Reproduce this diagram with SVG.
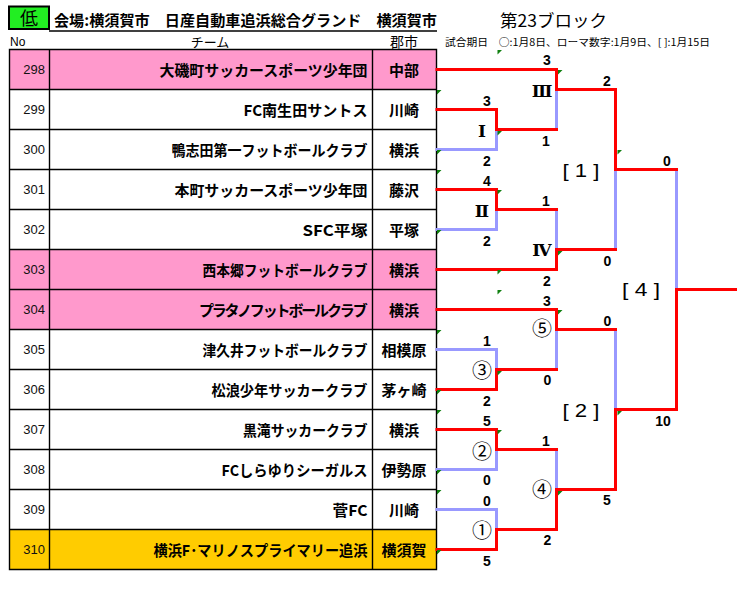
<svg xmlns="http://www.w3.org/2000/svg" width="746" height="589" viewBox="0 0 746 589">
<style>
.jp{font-family:"Noto Sans CJK JP","Noto Sans",sans-serif}
.b{font-weight:700}
.no{font-family:"Liberation Sans",sans-serif;font-size:13px;text-anchor:end;fill:#111}
.team{font-family:"Noto Sans CJK JP",sans-serif;font-weight:700;font-size:15px;text-anchor:end}
.city{font-family:"Noto Sans CJK JP",sans-serif;font-weight:700;font-size:15px;text-anchor:middle}
.grid{fill:none;stroke:#000;stroke-width:1.4}
.red{fill:none;stroke:#ff0000;stroke-width:3;stroke-linecap:square;stroke-linejoin:miter}
.blue{fill:none;stroke:#9999ff;stroke-width:3;stroke-linecap:square;stroke-linejoin:miter}
.sc{font-family:"Liberation Sans",sans-serif;font-weight:700;font-size:14px;text-anchor:middle;fill:#000}
.rm{font-family:"DejaVu Serif","Noto Sans CJK JP",serif;font-weight:700;font-size:17px;text-anchor:middle;fill:#000}
.ci{font-family:"Noto Sans CJK JP",sans-serif;font-size:20px;text-anchor:middle;fill:#000}
.br{font-family:"Liberation Sans",sans-serif;font-size:18px;text-anchor:middle;fill:#000}
.mk{fill:#108010}
</style>
<rect width="746" height="589" fill="#fff"/>
<g id="header">
<rect x="9" y="6.5" width="40" height="22.5" fill="#22ee22" stroke="#000" stroke-width="2"/>
<text x="29" y="24.5" class="jp" font-size="18" text-anchor="middle">低</text>
<text x="54" y="26" class="jp b" font-size="15" textLength="383" lengthAdjust="spacingAndGlyphs">会場:横須賀市　日産自動車追浜総合グランド　横須賀市</text>
<line x1="49" y1="31" x2="437" y2="31" stroke="#000" stroke-width="1.3"/>
<text x="500" y="26.5" class="jp" font-size="17" textLength="107" lengthAdjust="spacingAndGlyphs">第23ブロック</text>
<text x="10" y="46" font-family="Liberation Sans, sans-serif" font-size="12">No</text>
<text x="210" y="46.5" class="jp" font-size="13" text-anchor="middle">チーム</text>
<text x="404" y="46.5" class="jp" font-size="14" text-anchor="middle">郡市</text>
<text x="445" y="46" class="jp" font-size="10" textLength="265" lengthAdjust="spacingAndGlyphs">試合期日　○:1月8日、ローマ数字:1月9日、[ ]:1月15日</text>
</g>
<g id="table">
<rect x="9.5" y="49.5" width="427" height="40" fill="#ff99cc"/>
<rect x="9.5" y="249.5" width="427" height="80" fill="#ff99cc"/>
<rect x="9.5" y="529.5" width="427" height="40" fill="#ffcc00"/>
<path class="grid" d="M9.5,49.5H436.5V569.5H9.5Z M49.5,49.5V569.5 M372.5,49.5V569.5 M9.5,89.5H436.5 M9.5,129.5H436.5 M9.5,169.5H436.5 M9.5,209.5H436.5 M9.5,249.5H436.5 M9.5,289.5H436.5 M9.5,329.5H436.5 M9.5,369.5H436.5 M9.5,409.5H436.5 M9.5,449.5H436.5 M9.5,489.5H436.5 M9.5,529.5H436.5"/>
</g>
<g id="team-298"><text class="no" x="45" y="74">298</text><text class="team" x="367.5" y="75.5" textLength="208" lengthAdjust="spacingAndGlyphs">大磯町サッカースポーツ少年団</text><text class="city" x="404" y="75.5">中部</text></g>
<g id="team-299"><text class="no" x="45" y="114">299</text><text class="team" x="367.5" y="115.5" textLength="124" lengthAdjust="spacingAndGlyphs">FC南生田サントス</text><text class="city" x="404" y="115.5">川崎</text></g>
<g id="team-300"><text class="no" x="45" y="154">300</text><text class="team" x="367.5" y="155.5" textLength="196" lengthAdjust="spacingAndGlyphs">鴨志田第一フットボールクラブ</text><text class="city" x="404" y="155.5">横浜</text></g>
<g id="team-301"><text class="no" x="45" y="194">301</text><text class="team" x="367.5" y="195.5" textLength="193" lengthAdjust="spacingAndGlyphs">本町サッカースポーツ少年団</text><text class="city" x="404" y="195.5">藤沢</text></g>
<g id="team-302"><text class="no" x="45" y="234">302</text><text class="team" x="367.5" y="235.5" textLength="65" lengthAdjust="spacingAndGlyphs">SFC平塚</text><text class="city" x="404" y="235.5">平塚</text></g>
<g id="team-303"><text class="no" x="45" y="274">303</text><text class="team" x="367.5" y="275.5" textLength="165" lengthAdjust="spacingAndGlyphs">西本郷フットボールクラブ</text><text class="city" x="404" y="275.5">横浜</text></g>
<g id="team-304"><text class="no" x="45" y="314">304</text><text class="team" x="365.5" y="315.5" letter-spacing="-2.15">プラタノフットボールクラブ</text><text class="city" x="404" y="315.5">横浜</text></g>
<g id="team-305"><text class="no" x="45" y="354">305</text><text class="team" x="367.5" y="355.5" textLength="165" lengthAdjust="spacingAndGlyphs">津久井フットボールクラブ</text><text class="city" x="404" y="355.5">相模原</text></g>
<g id="team-306"><text class="no" x="45" y="394">306</text><text class="team" x="367.5" y="395.5" textLength="156" lengthAdjust="spacingAndGlyphs">松浪少年サッカークラブ</text><text class="city" x="404" y="395.5">茅ヶ崎</text></g>
<g id="team-307"><text class="no" x="45" y="434">307</text><text class="team" x="367.5" y="435.5" textLength="124.5" lengthAdjust="spacingAndGlyphs">黒滝サッカークラブ</text><text class="city" x="404" y="435.5">横浜</text></g>
<g id="team-308"><text class="no" x="45" y="474">308</text><text class="team" x="367.5" y="475.5" textLength="146" lengthAdjust="spacingAndGlyphs">FCしらゆりシーガルス</text><text class="city" x="404" y="475.5">伊勢原</text></g>
<g id="team-309"><text class="no" x="45" y="514">309</text><text class="team" x="367.5" y="515.5" textLength="35" lengthAdjust="spacingAndGlyphs">菅FC</text><text class="city" x="404" y="515.5">川崎</text></g>
<g id="team-310"><text class="no" x="45" y="554">310</text><text class="team" x="367.5" y="555.5" textLength="214" lengthAdjust="spacingAndGlyphs">横浜F･マリノスプライマリー追浜</text><text class="city" x="404" y="555.5">横須賀</text></g>
<g id="connectors">
<path class="blue" d="M437,149.5H496.5V129.5"/>
<path class="blue" d="M556.5,89.5V129.5"/>
<path class="blue" d="M437,229.5H496.5V209.5"/>
<path class="blue" d="M556.5,209.5V249.5"/>
<path class="blue" d="M615.5,169.5V249.5"/>
<path class="blue" d="M437,349.5H496.5V369.5"/>
<path class="blue" d="M556.5,329.5V369.5"/>
<path class="blue" d="M437,469.5H496.5V449.5"/>
<path class="blue" d="M437,509.5H496.5V529.5"/>
<path class="blue" d="M556.5,449.5V489.5"/>
<path class="blue" d="M615.5,329.5V409.5"/>
<path class="blue" d="M676.5,169.5V289.5"/>
<path class="red" d="M437,69.5H556.5V89.5H615.5V169.5H676.5"/>
<path class="red" d="M437,109.5H496.5V129.5H556.5"/>
<path class="red" d="M437,189.5H496.5V209.5H556.5"/>
<path class="red" d="M437,269.5H556.5V249.5H615.5"/>
<path class="red" d="M437,309.5H556.5V329.5H615.5"/>
<path class="red" d="M437,389.5H496.5V369.5H556.5"/>
<path class="red" d="M437,429.5H496.5V449.5H556.5"/>
<path class="red" d="M437,549.5H496.5V529.5H556.5V489.5H615.5V409.5H676.5V289.5H735.5"/>
</g>
<g id="markers">
<path class="mk" d="M437,90h4.5l-4.5,4.5z M437,150h4.5l-4.5,4.5z M437,170h4.5l-4.5,4.5z M437,230h4.5l-4.5,4.5z M437,330h4.5l-4.5,4.5z M437,390h4.5l-4.5,4.5z M437,410h4.5l-4.5,4.5z M437,470h4.5l-4.5,4.5z M437,490h4.5l-4.5,4.5z M437,550h4.5l-4.5,4.5z M497.5,50h4.5l-4.5,4.5z M497.5,131h4.5l-4.5,4.5z M497.5,190h4.5l-4.5,4.5z M497.5,270h4.5l-4.5,4.5z M497.5,290h4.5l-4.5,4.5z M497.5,371h4.5l-4.5,4.5z M497.5,430h4.5l-4.5,4.5z M558,70h4.5l-4.5,4.5z M558,251h4.5l-4.5,4.5z M558,310h4.5l-4.5,4.5z M558,491h4.5l-4.5,4.5z M617.5,150h4.5l-4.5,4.5z M617.5,411h4.5l-4.5,4.5z"/>
</g>
<g id="match-1">
<text class="sc" x="487" y="106">3</text><text class="rm" x="482" y="137">Ⅰ</text><text class="sc" x="487" y="166">2</text>
</g>
<g id="match-3">
<text class="sc" x="547" y="65">3</text><text class="rm" x="542" y="97">Ⅲ</text><text class="sc" x="546" y="146">1</text>
</g>
<g id="match-2">
<text class="sc" x="487" y="186">4</text><text class="rm" x="482" y="217">Ⅱ</text><text class="sc" x="487" y="246">2</text>
</g>
<g id="match-4">
<text class="sc" x="546" y="206">1</text><text class="rm" x="542" y="256">Ⅳ</text><text class="sc" x="547" y="286">2</text>
</g>
<g id="semi-1">
<text class="sc" x="607" y="86">2</text><text class="br" x="581" y="177" textLength="37" lengthAdjust="spacingAndGlyphs">[ 1 ]</text><text class="sc" x="607.5" y="266">0</text>
</g>
<g id="final">
<text class="sc" x="667" y="166">0</text><text class="br" x="641" y="296" textLength="38" lengthAdjust="spacingAndGlyphs">[ 4 ]</text><text class="sc" x="663" y="426">10</text>
</g>
<g id="circ-5">
<text class="sc" x="547" y="306">3</text><text class="ci" x="542" y="336">⑤</text><text class="sc" x="547.5" y="385">0</text>
</g>
<g id="semi-2">
<text class="sc" x="607.5" y="326">0</text><text class="br" x="581" y="417" textLength="37" lengthAdjust="spacingAndGlyphs">[ 2 ]</text><text class="sc" x="607" y="505">5</text>
</g>
<g id="circ-3">
<text class="sc" x="487" y="346">1</text><text class="ci" x="482" y="378">③</text><text class="sc" x="487" y="406">2</text>
</g>
<g id="circ-2">
<text class="sc" x="487" y="426">5</text><text class="ci" x="482" y="459">②</text><text class="sc" x="487" y="485">0</text>
</g>
<g id="circ-4">
<text class="sc" x="546" y="446">1</text><text class="ci" x="542" y="497">④</text><text class="sc" x="547.5" y="545">2</text>
</g>
<g id="circ-1">
<text class="sc" x="487" y="506">0</text><text class="ci" x="482" y="538">①</text><text class="sc" x="487" y="566">5</text>
</g>
</svg>
